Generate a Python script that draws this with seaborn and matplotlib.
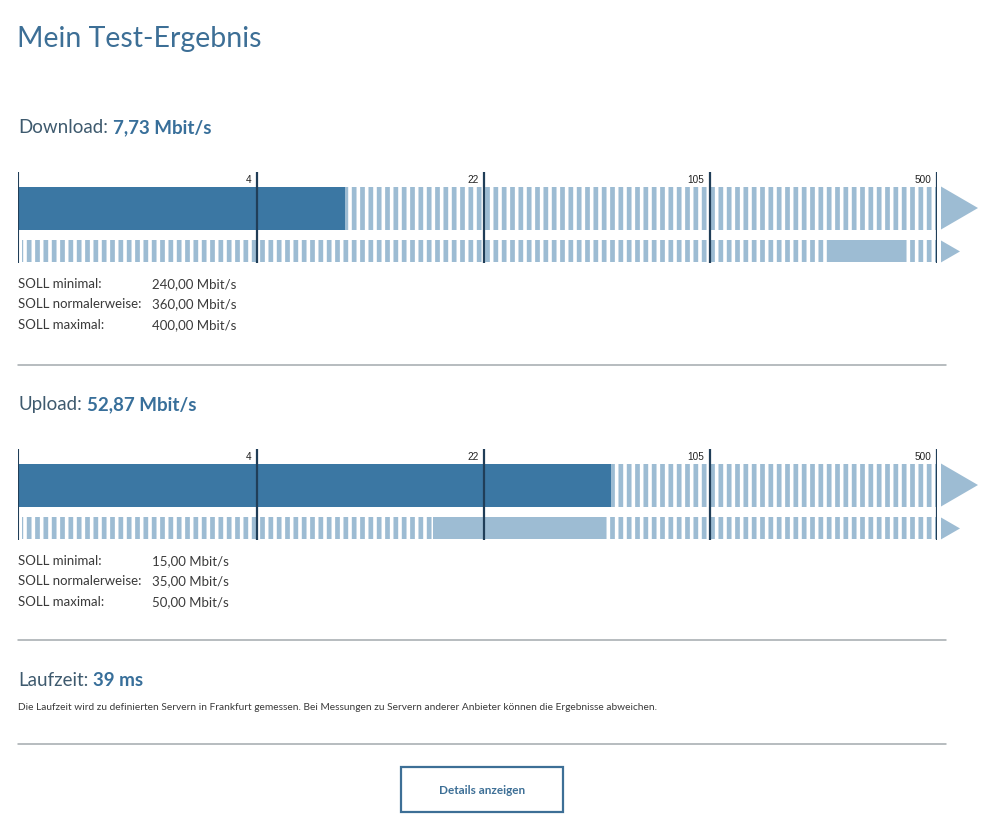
import numpy as np
import pandas as pd
import matplotlib
matplotlib.use("Agg")
import matplotlib.pyplot as plt
import seaborn as sns
from matplotlib.patches import Rectangle, Polygon
from matplotlib.lines import Line2D
import matplotlib.transforms as mtransforms

# ---------------- data ----------------
tick_values = [4, 22, 105, 500]
tick_labels = ["4", "22", "105", "500"]
download_value = 7.73
upload_value = 52.87
download_soll = [240.0, 360.0, 400.0]
upload_soll = [15.0, 35.0, 50.0]
soll_labels = ["SOLL minimal:", "SOLL normalerweise:", "SOLL maximal:"]
latency_ms = 39
title_text = "Mein Test-Ergebnis"
latency_note = ("Die Laufzeit wird zu definierten Servern in Frankfurt gemessen. "
                "Bei Messungen zu Servern anderer Anbieter können die Ergebnisse abweichen.")
button_text = "Details anzeigen"

# ---------------- style ----------------
sns.set_theme(style="white")
FONT = ["Lato", "DejaVu Sans"]
plt.rcParams["font.family"] = FONT
plt.rcParams["hatch.linewidth"] = 3.4
STRIPE = "#9dbcd3"
plt.rcParams["hatch.color"] = STRIPE

SOLID = "#3b77a3"
VLINE = "#203e58"
TITLE_C = "#3d6f96"
LABEL_C = "#3e5a6e"
VALUE_C = "#386f9a"
TEXT_C = "#3a3a3a"
SEP_C = "#a3aaad"

W, H = 999, 828
fig = plt.figure(figsize=(W / 100, H / 100), dpi=100)
fig.patch.set_facecolor("white")


def fx(x):
    return x / W


def fy(y):
    return 1 - y / H


def de(v):
    return f"{v:.2f}".replace(".", ",")


# piecewise scale: linear 0-4, log between the other breakpoints
SEG_PX = np.array([0, 239, 466, 692, 919], float)
BREAKS = np.array([0, 4, 22, 105, 500], float)
LOGB = np.log(BREAKS[1:])
SLOPE = (SEG_PX[4] - SEG_PX[3]) / (LOGB[3] - LOGB[2])


def fwd(x):
    x = np.asarray(x, float)
    lin = x / BREAKS[1] * SEG_PX[1]
    lx = np.log(np.clip(x, BREAKS[1], None))
    lg = np.interp(lx, LOGB, SEG_PX[1:])
    lg = np.where(x > BREAKS[4], SEG_PX[4] + (lx - LOGB[3]) * SLOPE, lg)
    return np.where(x < BREAKS[1], lin, lg)


def inv(y):
    y = np.asarray(y, float)
    lin = y / SEG_PX[1] * BREAKS[1]
    ly = np.interp(y, SEG_PX[1:], LOGB)
    ly = np.where(y > SEG_PX[4], LOGB[3] + (y - SEG_PX[4]) / SLOPE, ly)
    return np.where(y < SEG_PX[1], lin, np.exp(ly))


def header(y_base, label, value):
    t1 = fig.text(fx(18), fy(y_base), label, fontsize=13.5, color=LABEL_C,
                  ha="left", va="baseline")
    fig.add_artist(matplotlib.text.Annotation(
        value, xy=(1, 0), xycoords=t1, xytext=(3.5, 0), textcoords="offset points",
        fontsize=13.5, fontweight="bold", color=VALUE_C, ha="left", va="bottom",
        family=FONT))


def speed_panel(top_px, value, soll):
    # axes spanning pixel rows top_px .. top_px+91, columns 18 .. 937
    ax = fig.add_axes([fx(18), fy(top_px + 91), 919 / W, 91 / H])
    ax.set_xscale("function", functions=(fwd, inv))
    ax.set_facecolor("none")
    # striped background of the measurement row
    ax.barh(0, BREAKS[4], left=0, height=1.0, color="white", edgecolor=STRIPE,
            hatch="||", linewidth=0, zorder=1)
    # measured value (solid bar)
    df = pd.DataFrame({"mbit": [value], "row": [0.0]})
    sns.barplot(data=df, x="mbit", y="row", orient="y", native_scale=True,
                width=1.0, color=SOLID, saturation=1, linewidth=0,
                errorbar=None, ax=ax, zorder=2)
    # SOLL row: stripes plus solid range min..max
    start = float(inv(4.0))
    ax.barh(1.01, BREAKS[4] - start, left=start, height=0.51, color="white",
            edgecolor=STRIPE, hatch="||", linewidth=0, zorder=1)
    ax.barh(1.01, soll[2] - soll[0], left=soll[0], height=0.51, color=STRIPE,
            linewidth=0, zorder=2)
    # scale lines and labels
    ax.axvline(0, color=VLINE, lw=1.5, zorder=3)
    for tv, tl in zip(tick_values, tick_labels):
        ax.axvline(tv, color=VLINE, lw=1.6, zorder=3)
        ax.annotate(tl, xy=(tv, 1.0), xycoords=("data", "axes fraction"),
                    xytext=(-4, -1.5), textcoords="offset points", ha="right",
                    va="top", fontsize=7.2, color="#222222",
                    family=["Liberation Sans", "DejaVu Sans"])
    ax.set_xlim(0, BREAKS[4])
    ax.set_ylim(1.267, -0.849)
    # arrows to the right of the scale
    trans = mtransforms.blended_transform_factory(ax.transAxes, ax.transData)
    x0 = (941 - 18) / 919
    ax.add_patch(Polygon([[x0, -0.5], [x0, 0.5], [(978 - 18) / 919, 0.0]],
                         closed=True, transform=trans, color=STRIPE,
                         clip_on=False, lw=0))
    ax.add_patch(Polygon([[x0, 0.755], [x0, 1.265], [(960 - 18) / 919, 1.01]],
                         closed=True, transform=trans, color=STRIPE,
                         clip_on=False, lw=0))
    ax.set_xticks([])
    ax.set_yticks([])
    ax.set_xlabel("")
    ax.set_ylabel("")
    for s in ax.spines.values():
        s.set_visible(False)
    ax.grid(False)
    return ax


def soll_block(y0, soll):
    for i, (lab, v) in enumerate(zip(soll_labels, soll)):
        y = y0 + i * 20.5
        fig.text(fx(18), fy(y), lab, fontsize=9.5, color=TEXT_C, va="center")
        fig.text(fx(152), fy(y), f"{de(v)} Mbit/s", fontsize=9.5, color=TEXT_C,
                 va="center")


def separator(y):
    fig.add_artist(Line2D([fx(18), fx(946)], [fy(y), fy(y)], color=SEP_C,
                          lw=1.1, transform=fig.transFigure))


# title
fig.text(fx(17), fy(47), title_text, fontsize=20.5, color=TITLE_C, va="baseline")

# download
header(133, "Download:", f"{de(download_value)} Mbit/s")
speed_panel(172.5, download_value, download_soll)
soll_block(284, download_soll)
separator(366)

# upload
header(410, "Upload:", f"{de(upload_value)} Mbit/s")
speed_panel(449.5, upload_value, upload_soll)
soll_block(561, upload_soll)
separator(641)

# latency
header(686, "Laufzeit:", f"{latency_ms} ms")
fig.text(fx(18), fy(708), latency_note, fontsize=7.3, color=TEXT_C, va="center")
separator(745)

# button
fig.add_artist(Rectangle((fx(401), fy(813)), (563 - 401) / W, (813 - 768) / H,
                         transform=fig.transFigure, facecolor="white",
                         edgecolor=TITLE_C, lw=1.6))
fig.text(fx(482), fy(790.5), button_text, fontsize=8.5, fontweight="bold",
         color=TITLE_C, ha="center", va="center")

fig.savefig("out.png", dpi=100)
